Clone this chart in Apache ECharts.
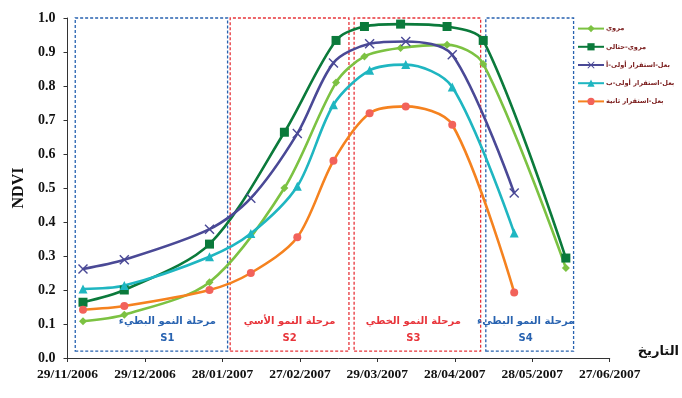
<!DOCTYPE html>
<html>
<head>
<meta charset="utf-8">
<script src="https://cdn.jsdelivr.net/npm/echarts@6/dist/echarts.min.js"></script>
<style>
  html, body { margin: 0; padding: 0; background: #fff; }
  #chart { width: 682px; height: 398px; }
</style>
</head>
<body>
<div id="chart"></div>
<script>
  // الفترة الزمنية للمحور الأفقي
  const startDate = '29/11/2006'
  const endDate = '27/06/2007'
  const tickDays = 30

  // تواريخ القياس
  const datesIrrigated = ['05/12/2006', '21/12/2006', '23/01/2007', '21/02/2007', '13/03/2007',
    '24/03/2007', '07/04/2007', '25/04/2007', '09/05/2007', '10/06/2007']
  const datesRainfed = ['05/12/2006', '21/12/2006', '23/01/2007', '08/02/2007', '26/02/2007',
    '12/03/2007', '26/03/2007', '09/04/2007', '27/04/2007', '21/05/2007']

  const seriesNames = ['مروي', 'مروي-حثالي', 'بعل-استقرار أولى-أ', 'بعل-استقرار أولى-ب', 'بعل-استقرار ثانية']
  const irrigated = [0.108, 0.127, 0.223, 0.50, 0.81, 0.887, 0.912, 0.921, 0.865, 0.265]
  const irrigatedResidual = [0.164, 0.20, 0.335, 0.664, 0.934, 0.975, 0.982, 0.975, 0.934, 0.294]
  const rainfed1a = [0.262, 0.289, 0.379, 0.47, 0.66, 0.868, 0.924, 0.931, 0.892, 0.485]
  const rainfed1b = [0.203, 0.213, 0.298, 0.366, 0.505, 0.745, 0.846, 0.863, 0.797, 0.368]
  const rainfed2 = [0.142, 0.153, 0.20, 0.25, 0.355, 0.58, 0.72, 0.74, 0.686, 0.193]

  // مراحل النمو
  const stageNames = ['مرحلة النمو البطيء', 'مرحلة النمو الأسي', 'مرحلة النمو الخطي', 'مرحلة النمو البطيء']
  const stageCodes = ['S1', 'S2', 'S3', 'S4']
  const stageStart = ['02/12/2006', '31/01/2007', '20/03/2007', '10/05/2007']
  const stageEnd = ['30/01/2007', '18/03/2007', '08/05/2007', '13/06/2007']
  const stageBottom = 0.02
  const stageTop = 1.0

  const yMin = 0
  const yMax = 1
  const yStep = 0.1

  function parseDate(s) {
    const p = s.split('/')
    return Date.UTC(+p[2], +p[1] - 1, +p[0])
  }
  const DAY = 86400000
  const t0 = parseDate(startDate)
  function toDay(s) {
    return Math.round((parseDate(s) - t0) / DAY)
  }
  function dayLabel(d) {
    const dt = new Date(t0 + d * DAY)
    const dd = String(dt.getUTCDate()).padStart(2, '0')
    const mm = String(dt.getUTCMonth() + 1).padStart(2, '0')
    return dd + '/' + mm + '/' + dt.getUTCFullYear()
  }
  function pairs(dates, vals) {
    return vals.map((v, i) => [toDay(dates[i]), v])
  }

  const colors = ['#7cc242', '#0b7a3b', '#4a4996', '#1fb6c1', '#f5821f']
  const markerColors = ['#7cc242', '#0b7a3b', '#4a4996', '#1fb6c1', '#f2625a']
  const xPath = 'path://M0,1L1,0L5,4L9,0L10,1L6,5L10,9L9,10L5,6L1,10L0,9L4,5Z'
  const symbols = ['diamond', 'rect', xPath, 'triangle', 'circle']
  const symbolSizes = [8, 9, 10, 9, 8]
  const seriesData = [
    pairs(datesIrrigated, irrigated),
    pairs(datesIrrigated, irrigatedResidual),
    pairs(datesRainfed, rainfed1a),
    pairs(datesRainfed, rainfed1b),
    pairs(datesRainfed, rainfed2)
  ]

  const stageColors = ['#2762b0', '#e8343a', '#e8343a', '#2762b0']
  const stageOffsets = [16, 0, -4, -4]
  const stageAreas = stageCodes.map((code, i) => [
    {
      xAxis: toDay(stageStart[i]),
      yAxis: stageBottom,
      itemStyle: {
        color: 'rgba(0,0,0,0)',
        borderColor: stageColors[i],
        borderWidth: 1.3,
        borderType: [3, 2]
      },
      label: {
        show: true,
        position: 'insideBottom',
        distance: 5,
        offset: [stageOffsets[i], 0],
        formatter: stageNames[i] + '\n' + code,
        color: stageColors[i],
        fontFamily: 'DejaVu Sans',
        fontWeight: 'bold',
        fontSize: 10,
        lineHeight: 17,
        align: 'center'
      }
    },
    { xAxis: toDay(stageEnd[i]), yAxis: stageTop }
  ])

  const series = seriesNames.map((name, i) => ({
    name: name,
    type: 'line',
    smooth: 0.3,
    data: seriesData[i],
    symbol: symbols[i],
    symbolSize: symbolSizes[i],
    lineStyle: { color: colors[i], width: 2.6 },
    itemStyle: { color: markerColors[i] },
    z: 3
  }))
  series.unshift({
    type: 'line',
    data: [],
    silent: true,
    z: 1,
    markArea: { silent: true, data: stageAreas }
  })

  const chart = echarts.init(document.getElementById('chart'))
  chart.setOption({
    animation: false,
    grid: { left: 67.5, right: 71, top: 18, bottom: 40 },
    legend: {
      data: seriesNames.map((n, i) => ({ name: n, itemStyle: { color: markerColors[i] } })),
      orient: 'vertical',
      left: 577,
      top: 25,
      padding: 0,
      itemWidth: 26,
      itemHeight: 9,
      itemGap: 11,
      textStyle: {
        color: '#7a1c1c',
        fontFamily: 'DejaVu Sans',
        fontWeight: 'bold',
        fontSize: 6.6,
        padding: [0, 0, 0, -3]
      }
    },
    xAxis: {
      type: 'value',
      min: 0,
      max: toDay(endDate),
      interval: tickDays,
      name: 'التاريخ',
      nameLocation: 'end',
      nameGap: 28,
      nameTextStyle: {
        color: '#111',
        fontFamily: 'DejaVu Sans',
        fontWeight: 'bold',
        fontSize: 13,
        verticalAlign: 'bottom'
      },
      axisLine: { lineStyle: { color: '#333', width: 1 } },
      axisTick: { show: true, length: 4, lineStyle: { color: '#333' } },
      splitLine: { show: false },
      axisLabel: {
        margin: 10,
        color: '#111',
        fontFamily: 'Liberation Serif',
        fontWeight: 'bold',
        fontSize: 13.5,
        formatter: dayLabel
      }
    },
    yAxis: {
      type: 'value',
      min: yMin,
      max: yMax,
      interval: yStep,
      name: 'NDVI',
      nameLocation: 'middle',
      nameRotate: 90,
      nameGap: 37,
      nameTextStyle: {
        color: '#111',
        fontFamily: 'Liberation Serif',
        fontWeight: 'bold',
        fontSize: 16
      },
      axisLine: { show: true, lineStyle: { color: '#333', width: 1 } },
      axisTick: { show: true, length: 4, lineStyle: { color: '#333' } },
      splitLine: { show: false },
      axisLabel: {
        margin: 12,
        color: '#111',
        fontFamily: 'Liberation Serif',
        fontWeight: 'bold',
        fontSize: 14,
        formatter: v => v.toFixed(1)
      }
    },
    series: series
  })
</script>
</body>
</html>
